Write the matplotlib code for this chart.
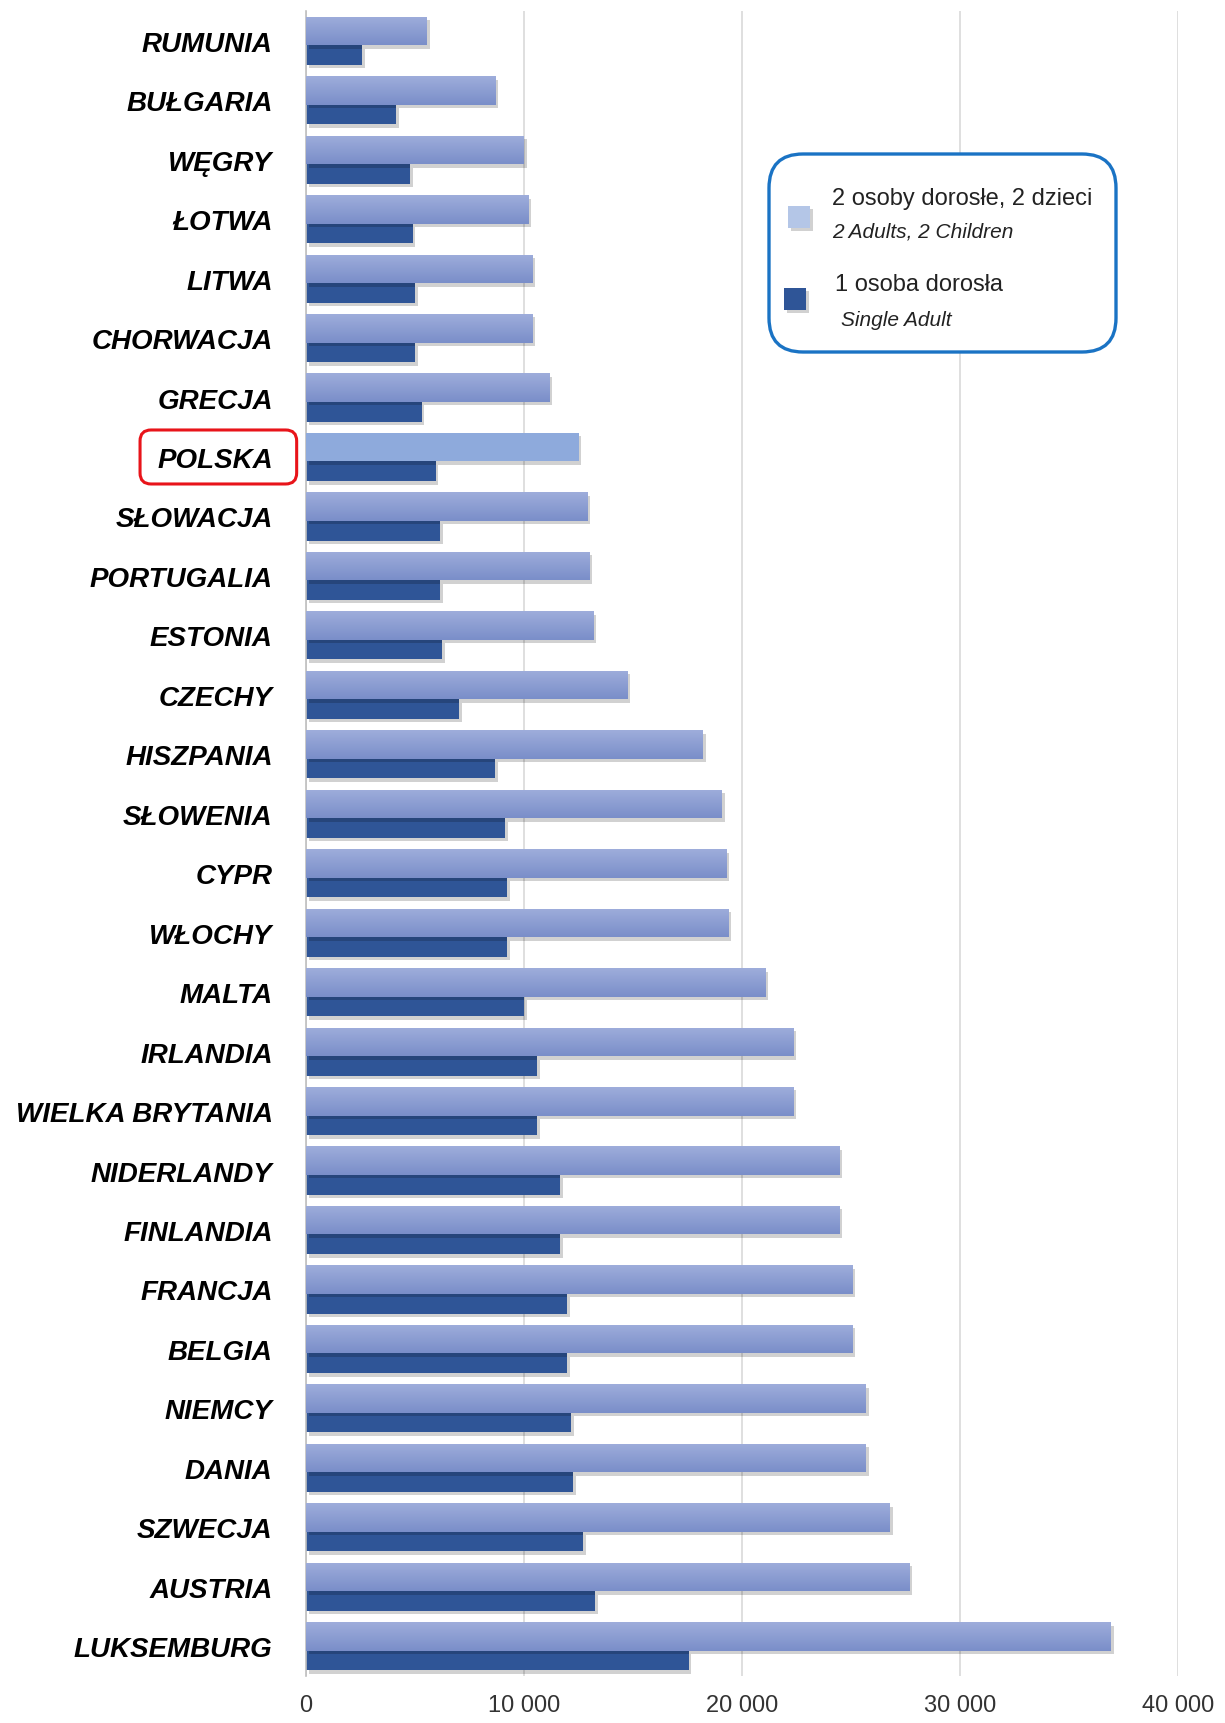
import numpy as np
import matplotlib
matplotlib.use("Agg")
import matplotlib.pyplot as plt
from matplotlib import patheffects as pe
from matplotlib.colors import LinearSegmentedColormap
from matplotlib.patches import FancyBboxPatch, Rectangle
from matplotlib.transforms import IdentityTransform

# data (EUR / year)
countries = [
    "RUMUNIA", "BUŁGARIA", "WĘGRY", "ŁOTWA", "LITWA", "CHORWACJA", "GRECJA",
    "POLSKA", "SŁOWACJA", "PORTUGALIA", "ESTONIA", "CZECHY", "HISZPANIA",
    "SŁOWENIA", "CYPR", "WŁOCHY", "MALTA", "IRLANDIA", "WIELKA BRYTANIA",
    "NIDERLANDY", "FINLANDIA", "FRANCJA", "BELGIA", "NIEMCY", "DANIA",
    "SZWECJA", "AUSTRIA", "LUKSEMBURG",
]
two_adults_two_children = [
    5550, 8680, 9990, 10190, 10390, 10390, 11150, 12510, 12910, 13010,
    13170, 14730, 18210, 19070, 19270, 19370, 21080, 22350, 22350, 24460,
    24460, 25070, 25070, 25680, 25680, 26780, 27690, 36920,
]
single_adult = [
    2570, 4140, 4790, 4890, 4990, 4990, 5300, 5950, 6150, 6150,
    6260, 7010, 8680, 9130, 9230, 9230, 9990, 10590, 10590, 11650,
    11650, 11960, 11960, 12160, 12260, 12710, 13270, 17550,
]
x_ticks = [0, 10000, 20000, 30000, 40000]
x_tick_labels = ["0", "10 000", "20 000", "30 000", "40 000"]
highlight = "POLSKA"

legend_main = ["2 osoby dorosłe, 2 dzieci", "1 osoba dorosła"]
legend_sub = ["2 Adults, 2 Children", "Single Adult"]

FONT = ["Liberation Sans Narrow", "Liberation Sans", "DejaVu Sans"]
LIGHT_TOP = "#9eaddb"
LIGHT_BOTTOM = "#7a8ec9"
LIGHT_FLAT = "#8eaadc"
DARK = "#2f5597"
GRID = "#d9d9d9"

W, H = 1225, 1724
fig = plt.figure(figsize=(W / 100, H / 100), dpi=100)
fig.patch.set_facecolor("white")
ax = fig.add_axes([306 / W, 1 - 1677 / H, (1178 - 306) / W, (1677 - 12) / H])

y = np.arange(len(countries))
shadow = [pe.SimplePatchShadow(offset=(2, -2.5), shadow_rgbFace="black", alpha=0.18),
          pe.Normal()]

light_bars = ax.barh(y - 0.165, two_adults_two_children, height=0.48,
                     color=LIGHT_TOP, zorder=3, path_effects=shadow)
dark_bars = ax.barh(y + 0.24, single_adult, height=0.33,
                    color=DARK, zorder=2, path_effects=shadow)

# vertical gradient on the light bars (flat for the highlighted country)
cmap = LinearSegmentedColormap.from_list("bar", [LIGHT_TOP, LIGHT_BOTTOM])
grad = np.linspace(0, 1, 64).reshape(-1, 1)
for name, rect in zip(countries, light_bars):
    if name == highlight:
        rect.set_facecolor(LIGHT_FLAT)
        continue
    x0, y0 = rect.get_x(), rect.get_y()
    w, h = rect.get_width(), rect.get_height()
    im = ax.imshow(grad, extent=[x0, x0 + w, y0 + h, y0], cmap=cmap,
                   aspect="auto", origin="upper", zorder=3.5)
    im.set_clip_path(rect)

ax.set_xlim(0, 40000)
ax.set_ylim(len(countries) - 0.5, -0.5)

ax.set_xticks(x_ticks, labels=x_tick_labels)
ax.set_yticks(y, labels=countries)
ax.tick_params(axis="x", length=0, pad=13, labelsize=17, labelcolor="#333333")
ax.tick_params(axis="y", length=0, pad=24)
for lab in ax.get_xticklabels():
    lab.set_family(FONT)
for lab in ax.get_yticklabels():
    lab.set_family(FONT)
    lab.set_fontsize(20)
    lab.set_fontweight("bold")
    lab.set_fontstyle("italic")

ax.grid(axis="x", color=GRID, lw=1.2, zorder=0)
ax.set_axisbelow(True)
for side in ["top", "right", "bottom"]:
    ax.spines[side].set_visible(False)
ax.spines["left"].set_color("#bfbfbf")
ax.spines["left"].set_linewidth(1.2)

# red rounded frame round the highlighted country label (pixel units)
fig.canvas.draw()
renderer = fig.canvas.get_renderer()
for lab in ax.get_yticklabels():
    if lab.get_text() == highlight:
        bb = lab.get_window_extent(renderer)
        yc = ax.transData.transform((0, countries.index(highlight)))[1]
        frame = FancyBboxPatch((bb.x0 - 17, yc - 27), bb.width + 41, 54,
                               boxstyle="round,pad=0,rounding_size=11",
                               fc="none", ec="#e8141a", lw=2.2,
                               transform=IdentityTransform())
        fig.add_artist(frame)

# legend box, drawn in pixel units
bx, by, bw, bh = 766, 152, 353, 204
lax = fig.add_axes([bx / W, 1 - (by + bh) / H, bw / W, bh / H])
lax.set_xlim(0, bw)
lax.set_ylim(bh, 0)
lax.axis("off")
lax.add_patch(FancyBboxPatch((3, 3), bw - 6, bh - 6,
                             boxstyle="round,pad=0,rounding_size=34",
                             fc="white", ec="#1a73c4", lw=2.4))
lax.add_patch(Rectangle((22, 55), 22, 22, fc="#b4c6e7", ec="none",
                        path_effects=shadow))
lax.add_patch(Rectangle((18, 137), 22, 22, fc=DARK, ec="none",
                        path_effects=shadow))
lax.text(66, 47, legend_main[0], family=FONT, fontsize=17, va="center", color="#222222")
lax.text(66, 80, legend_sub[0], family=FONT, fontsize=15, style="italic",
         va="center", color="#222222")
lax.text(69, 133, legend_main[1], family=FONT, fontsize=17, va="center", color="#222222")
lax.text(75, 168, legend_sub[1], family=FONT, fontsize=15, style="italic",
         va="center", color="#222222")

fig.savefig("out.png", dpi=100, facecolor="white")
